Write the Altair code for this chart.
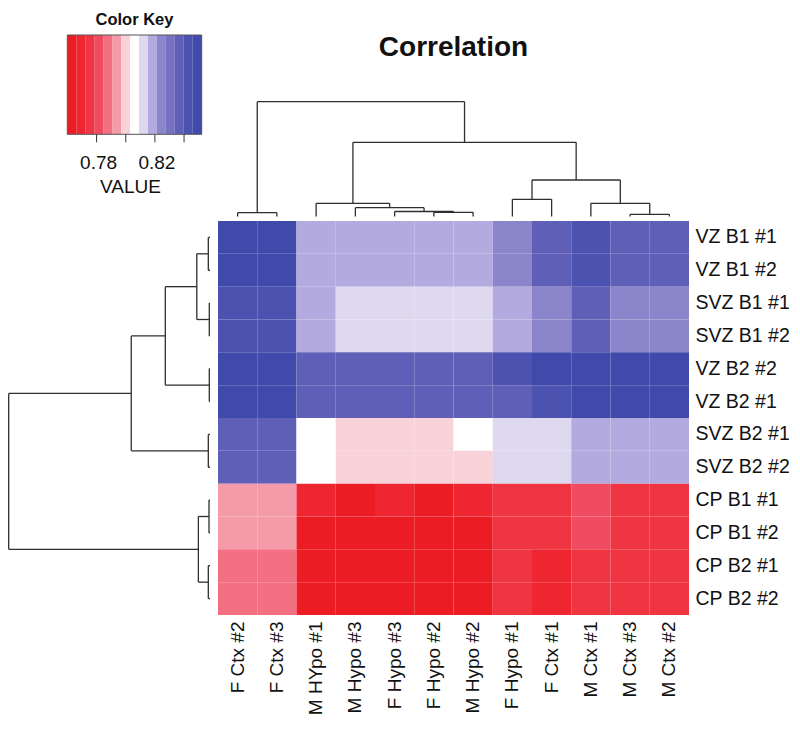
import altair as alt
import pandas as pd

# ---------------- data ----------------
col_names = ["F Ctx #2", "F Ctx #3", "M HYpo #1", "M Hypo #3", "F Hypo #3", "F Hypo #2",
             "M Hypo #2", "F Hypo #1", "F Ctx #1", "M Ctx #1", "M Ctx #3", "M Ctx #2"]
row_names = ["VZ B1 #1", "VZ B1 #2", "SVZ B1 #1", "SVZ B1 #2", "VZ B2 #2", "VZ B2 #1",
             "SVZ B2 #1", "SVZ B2 #2", "CP B1 #1", "CP B1 #2", "CP B2 #1", "CP B2 #2"]

corr = [
    [0.849, 0.849, 0.818, 0.818, 0.818, 0.818, 0.818, 0.824, 0.837, 0.843, 0.837, 0.837],
    [0.849, 0.849, 0.818, 0.818, 0.818, 0.818, 0.818, 0.824, 0.837, 0.843, 0.837, 0.837],
    [0.843, 0.843, 0.818, 0.812, 0.812, 0.812, 0.812, 0.818, 0.824, 0.837, 0.824, 0.824],
    [0.843, 0.843, 0.818, 0.812, 0.812, 0.812, 0.812, 0.818, 0.824, 0.837, 0.824, 0.824],
    [0.849, 0.849, 0.837, 0.837, 0.837, 0.837, 0.837, 0.843, 0.849, 0.849, 0.849, 0.849],
    [0.849, 0.849, 0.837, 0.837, 0.837, 0.837, 0.837, 0.837, 0.843, 0.849, 0.849, 0.849],
    [0.837, 0.837, 0.806, 0.800, 0.800, 0.800, 0.806, 0.812, 0.812, 0.818, 0.818, 0.818],
    [0.837, 0.837, 0.806, 0.800, 0.800, 0.800, 0.800, 0.812, 0.812, 0.818, 0.818, 0.818],
    [0.794, 0.794, 0.769, 0.763, 0.769, 0.763, 0.769, 0.775, 0.775, 0.781, 0.775, 0.775],
    [0.794, 0.794, 0.763, 0.763, 0.763, 0.763, 0.763, 0.775, 0.775, 0.781, 0.775, 0.775],
    [0.788, 0.788, 0.763, 0.763, 0.763, 0.763, 0.763, 0.775, 0.769, 0.775, 0.775, 0.775],
    [0.788, 0.788, 0.763, 0.763, 0.763, 0.763, 0.763, 0.775, 0.769, 0.775, 0.775, 0.775],
]

# colour key: 15 bins
key_min = 0.7599
key_step = 0.006147
key_n = 15
palette = ["#ec1c24", "#ee2632", "#ef3442", "#f04b60", "#f37083", "#f59aa8", "#fad2da",
           "#ffffff",
           "#dfd9f0", "#b3abdf", "#8b86cc", "#7572c2", "#605fb8", "#4c52b0", "#3f4aab"]
key_ticks = [0.78, 0.80, 0.82, 0.84]
key_tick_labels = ["0.78", "", "0.82", ""]

# dendrograms: (left, right, height) in display-order leaf indices (scipy style)
col_merges = [
    (0, 1, 3.8),      # 12
    (5, 6, 4.2),      # 13
    (4, 13, 5.0),     # 14
    (3, 14, 8.8),     # 15
    (2, 15, 13.2),    # 16
    (10, 11, 2.2),    # 17
    (9, 17, 13.2),    # 18
    (7, 8, 17.2),     # 19
    (19, 18, 36.5),   # 20
    (16, 20, 74.2),   # 21
    (12, 21, 114.8),  # 22
]
row_merges = [
    (0, 1, 1.7),      # 12
    (2, 3, 0.7),      # 13
    (4, 5, 0.7),      # 14
    (6, 7, 1.7),      # 15
    (8, 9, 1.0),      # 16
    (10, 11, 1.7),    # 17
    (12, 13, 13.3),   # 18
    (18, 14, 45.0),   # 19
    (19, 15, 79.3),   # 20
    (16, 17, 11.7),   # 21
    (20, 21, 202.7),  # 22
]

# ---------------- layout ----------------
W, H = 471, 394
FONT = "Liberation Sans"


def dendro_segments(merges, n):
    pos = {i: i + 0.5 for i in range(n)}
    hgt = {i: 0.0 for i in range(n)}
    segs = []
    for k, (a, b, h) in enumerate(merges):
        segs.append(dict(p1=pos[a], p2=pos[b], h1=h, h2=h))
        segs.append(dict(p1=pos[a], p2=pos[a], h1=hgt[a], h2=h))
        segs.append(dict(p1=pos[b], p2=pos[b], h1=hgt[b], h2=h))
        pos[n + k] = (pos[a] + pos[b]) / 2
        hgt[n + k] = h
    return pd.DataFrame(segs)


heat_df = pd.DataFrame(
    [{"row": r, "col": c, "v": corr[i][j]}
     for i, r in enumerate(row_names) for j, c in enumerate(col_names)]
)

breaks = [key_min + i * key_step for i in range(key_n + 1)]
color_scale = alt.Scale(type="threshold", domain=breaks[1:-1], range=palette)

heat = alt.Chart(heat_df).mark_rect().encode(
    x=alt.X("col:N", sort=col_names,
            scale=alt.Scale(paddingInner=0, paddingOuter=0),
            axis=alt.Axis(orient="bottom", labelAngle=270, labelAlign="right",
                          labelBaseline="middle", ticks=False, domain=False,
                          labelPadding=6, labelFontSize=19, labelFont=FONT,
                          labelColor="#111", title=None)),
    y=alt.Y("row:N", sort=row_names,
            scale=alt.Scale(paddingInner=0, paddingOuter=0),
            axis=alt.Axis(orient="right", ticks=False, domain=False,
                          labelPadding=6, labelFontSize=19.5, labelFont=FONT,
                          labelColor="#111", title=None)),
    color=alt.Color("v:Q", scale=color_scale, legend=None),
)

line_color = "#2e2e2e"
col_seg = dendro_segments(col_merges, len(col_names))
col_dendro = alt.Chart(col_seg).mark_rule(color=line_color, strokeWidth=1.3).encode(
    x=alt.X("p1:Q", scale=alt.Scale(domain=[0, 12], range=[0, W], nice=False, zero=False), axis=None),
    x2="p2:Q",
    y=alt.Y("h1:Q", scale=alt.Scale(domain=[0, 114.8], range=[-4.5, -119.3], nice=False, zero=False), axis=None),
    y2="h2:Q",
)

row_seg = dendro_segments(row_merges, len(row_names))
row_dendro = alt.Chart(row_seg).mark_rule(color=line_color, strokeWidth=1.3).encode(
    x=alt.X("h1:Q", scale=alt.Scale(domain=[0, 202.7], range=[-8, -209.3], nice=False, zero=False), axis=None),
    x2="h2:Q",
    y=alt.Y("p1:Q", scale=alt.Scale(domain=[0, 12], range=[0, H], nice=False, zero=False), axis=None),
    y2="p2:Q",
)

# colour key
key_scale = alt.Scale(domain=[breaks[0], breaks[-1]], range=[-150.7, -16.3], nice=False, zero=False)
key_top, key_bot = -186, -86.7
key_df = pd.DataFrame({"lo": breaks[:-1], "hi": breaks[1:]})
key_df["mid"] = (key_df["lo"] + key_df["hi"]) / 2
key_rects = alt.Chart(key_df).mark_rect().encode(
    x=alt.X("lo:Q", scale=key_scale, axis=None),
    x2="hi:Q",
    y=alt.value(key_top),
    y2=alt.value(key_bot),
    color=alt.Color("mid:Q", scale=color_scale, legend=None),
)
key_box = alt.Chart(pd.DataFrame({"lo": [breaks[0]], "hi": [breaks[-1]]})).mark_rect(
    filled=False, stroke="#555", strokeWidth=1
).encode(
    x=alt.X("lo:Q", scale=key_scale, axis=None),
    x2="hi:Q",
    y=alt.value(key_top),
    y2=alt.value(key_bot),
)
tick_df = pd.DataFrame({"v": key_ticks, "lab": key_tick_labels})
key_tick_rules = alt.Chart(tick_df).mark_rule(color="#333", strokeWidth=1).encode(
    x=alt.X("v:Q", scale=key_scale, axis=None),
    y=alt.value(key_bot),
    y2=alt.value(key_bot + 8),
)
key_tick_text = alt.Chart(tick_df).mark_text(
    font=FONT, fontSize=19, baseline="middle", align="center", color="#111", dx=2
).encode(
    x=alt.X("v:Q", scale=key_scale, axis=None),
    y=alt.value(-57.7),
    text="lab:N",
)


def label(txt, x, y, size, bold=False):
    return alt.Chart(pd.DataFrame({"t": [txt]})).mark_text(
        font=FONT, fontSize=size, fontWeight="bold" if bold else "normal",
        baseline="middle", align="center", color="#111"
    ).encode(x=alt.value(x), y=alt.value(y), text="t:N")


value_txt = label("VALUE", -87.5, -34.3, 19)
key_title = label("Color Key", -83.5, -201.5, 16.5, bold=True)
main_title = label("Correlation", 235.5, -172.7, 28, bold=True)

chart = alt.layer(
    heat, col_dendro, row_dendro, key_rects, key_box, key_tick_rules, key_tick_text,
    value_txt, key_title, main_title
).resolve_scale(
    x="independent", y="independent"
).properties(
    width=W, height=H,
    padding={"left": 210, "top": 213, "right": 100, "bottom": 106},
    autosize=alt.AutoSizeParams(type="none"),
).configure_view(stroke=None)

chart.save("out.html", embed_options={"renderer": "svg", "actions": False})
